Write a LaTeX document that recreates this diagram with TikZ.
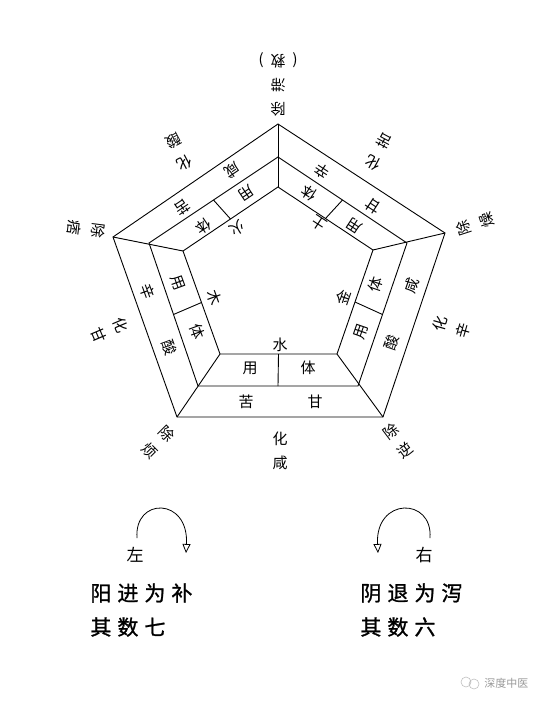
\documentclass[tikz,border=0pt]{standalone}
\usepackage{fontspec}
\usepackage{tikz}
\usetikzlibrary{calc, arrows.meta}
\newfontfamily\cjk{Noto Sans CJK SC}
\newfontfamily\cjkbold[FakeBold=1.2]{Noto Sans CJK SC}

\tikzset{
  lab/.style={font=\cjk\fontsize{15}{24}\selectfont, inner sep=0pt, align=center},
  side/.style={font=\cjk\fontsize{17}{17}\selectfont, inner sep=0pt},
  rule/.style={font=\cjkbold\fontsize{21}{21}\selectfont, inner sep=0pt, anchor=west},
  turn/.style={-{Triangle[open, length=9pt, width=8pt]}, line width=0.8pt},
}

\begin{document}
\begin{tikzpicture}[x=1pt, y=-1pt, line width=0.9pt]
  \useasboundingbox (0,0) rectangle (555,705);

  % corners: outer, middle, inner
  \coordinate (oT) at (278,124);  \coordinate (oR) at (445,233);
  \coordinate (oBR) at (383,417); \coordinate (oBL) at (177,417);
  \coordinate (oL) at (113,237);
  \coordinate (mT) at (278,157);  \coordinate (mR) at (407,243);
  \coordinate (mBR) at (358,386); \coordinate (mBL) at (198,386);
  \coordinate (mL) at (149,243);
  \coordinate (iT) at (278,187);  \coordinate (iR) at (373,250);
  \coordinate (iBR) at (337,354); \coordinate (iBL) at (220,354);
  \coordinate (iL) at (183,251);

  % pentagons
  \draw (oT) -- (oR) -- (oBR) -- (oBL) -- (oL) -- cycle;
  \draw (mT) -- (mR) -- (mBR) -- (mBL) -- (mL) -- cycle;
  \draw (iT) -- (iR) -- (iBR) -- (iBL) -- (iL) -- cycle;

  % radial lines
  \foreach \v in {T,R,BR,BL,L}{
    \draw (o\v) -- (i\v);
  }

  % ti / yong separators
  \foreach \a/\b in {T/R,R/BR,BR/BL,BL/L,L/T}{
    \draw ($(m\a)!0.5!(m\b)$) -- ($(i\a)!0.5!(i\b)$);
  }

  %---- shui (bottom) ----
  \node[lab] (shuiku) at (246,402) {苦};
  \node[lab] (shuigan) at (315,402) {甘};
  \node[lab] (shuiyong) at (250,368) {用};
  \node[lab] (shuiti) at (308,368) {体};
  \node[lab] (shui) at (280,345) {水};
  \node[lab] (huaxian) at (280,451) {化\\咸};

  %---- jin (lower right) ----
  \node[lab, rotate=71] (jinxian) at (412,286) {咸};
  \node[lab, rotate=71] (jinsuan) at (392,343) {酸};
  \node[lab, rotate=71] (jinti) at (376,285) {体};
  \node[lab, rotate=71] (jinyong) at (361,332) {用};
  \node[lab, rotate=71] (jin) at (343,297) {金};
  \node[lab, rotate=74] (huaxin) at (452,327) {化\\辛};

  %---- tu (upper right) ----
  \node[lab, rotate=147] (tuxin) at (322,171) {辛};
  \node[lab, rotate=147] (tugan) at (373,206) {甘};
  \node[lab, rotate=147] (tuti) at (309,193) {体};
  \node[lab, rotate=147] (tuyong) at (354,226) {用};
  \node[lab, rotate=147] (tu) at (319,223) {土};
  \node[lab, rotate=152] (huaku) at (379,152) {化\\苦};

  %---- huo (upper left) ----
  \node[lab, rotate=214] (huoxian) at (232,170) {咸};
  \node[lab, rotate=214] (huoku) at (182,207) {苦};
  \node[lab, rotate=214] (huoyong) at (246,193) {用};
  \node[lab, rotate=214] (huoti) at (203,226) {体};
  \node[lab, rotate=214] (huo) at (237,228) {火};
  \node[lab, rotate=208] (huasuan) at (179,152) {化\\酸};

  %---- mu (lower left) ----
  \node[lab, rotate=-70] (muxin) at (147,292) {辛};
  \node[lab, rotate=-70] (musuan) at (169,348) {酸};
  \node[lab, rotate=-70] (muyong) at (178,283) {用};
  \node[lab, rotate=-70] (muti) at (197,332) {体};
  \node[lab, rotate=-70] (mu) at (214,298) {木};
  \node[lab, rotate=-67] (huagan) at (110,330) {化\\甘};

  % corner labels
  \node[lab, rotate=180] (chuzhi) at (278,84) {除\\滞\\(\kern7pt 救\kern7pt )};
  \node[lab, rotate=108] (chuzao) at (475,224) {除\\燥};
  \node[lab, rotate=37] (chuni) at (398,441) {除\\逆};
  \node[lab, rotate=-45] (chufan) at (158,442) {除\\烦};
  \node[lab, rotate=-97] (chupi) at (86,229) {除\\痞};

  % zuo / you turns
  \coordinate (zuoA) at (137,538);
  \coordinate (zuoB) at (186,553);
  \coordinate (youA) at (430,538);
  \coordinate (youB) at (378,553);
  \draw[turn] (zuoA) .. controls (134,497) and (189,497) .. (zuoB);
  \draw[turn] (youA) .. controls (433,497) and (375,497) .. (youB);
  \node[side] (zuo) at (135,555) {左};
  \node[side] (you) at (424,555) {右};

  \node[rule] (yangjin) at (90,593) {阳\kern6pt 进\kern6pt 为\kern6pt 补};
  \node[rule] (qishuqi) at (90,627) {其\kern6pt 数\kern6pt 七};
  \node[rule] (yintui) at (360,593) {阴\kern6pt 退\kern6pt 为\kern6pt 泻};
  \node[rule] (qishuliu) at (360,627) {其\kern6pt 数\kern6pt 六};

  % watermark
  \draw[black!25, line width=0.6pt] (466,682) circle (5) (474,684) circle (5);
  \node[font=\cjk\fontsize{11}{11}\selectfont, text=black!40, anchor=west, inner sep=0pt] (mark) at (484,683) {深度中医};
\end{tikzpicture}
\end{document}
